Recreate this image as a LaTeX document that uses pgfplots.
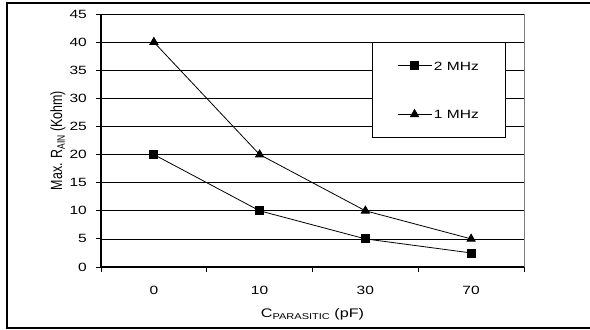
\documentclass[border=0pt]{standalone}
\usepackage{fontspec}
\setmainfont{Liberation Sans}
\usepackage{graphicx}
\usepackage{pgfplots}
\pgfplotsset{compat=1.18}
\newcommand{\sx}[1]{\scalebox{1.3}[1]{#1}}
\newcommand{\sy}[1]{\scalebox{1}[1.3]{#1}}
\newcommand{\sub}[1]{\raisebox{-2bp}{\fontsize{8.5}{10}\selectfont #1}}
\begin{document}
\begin{tikzpicture}
\useasboundingbox (0bp,0bp) rectangle (590bp,-330bp);
\draw[line width=2.2bp] (592bp,-3bp) -- (7bp,-3bp) -- (7bp,-328bp) -- (592bp,-328bp);
\begin{axis}[
  at={(101bp,-267bp)}, anchor=south west,
  scale only axis, width=423bp, height=253bp,
  xmin=-0.5, xmax=3.5, ymin=0, ymax=45,
  xtick={0,1,2,3},
  xticklabels={\sx{0},\sx{10},\sx{30},\sx{70}},
  minor xtick={-0.5,0.5,1.5,2.5,3.5},
  ytick={0,5,...,45},
  /pgf/number format/assume math mode=true,
  yticklabel={\sx{\pgfmathprintnumber{\tick}}},
  major x tick style={draw=none},
  tick align=outside, tick pos=left,
  major tick length=5bp, minor tick length=5bp,
  tick style={black, line width=0.8bp},
  ymajorgrids, grid style={black, line width=0.7bp},
  axis line style={draw=none},
  tick label style={font=\fontsize{12}{14}\selectfont},
  yticklabel style={anchor=east, inner sep=0pt, xshift=-9bp},
  xticklabel style={anchor=north, inner sep=0pt, yshift=-14bp},
  label style={font=\fontsize{12.5}{15}\selectfont},
  xlabel={\sx{C\sub{PARASITIC} (pF)}},
  xlabel style={at={(axis description cs:0.5,0)}, anchor=base, inner sep=0pt, yshift=-50bp},
  ylabel={\sy{Max. R\sub{AIN} (Kohm)}},
  ylabel style={at={(axis description cs:-0.1017,0.5)}, anchor=center, inner sep=0pt},
  legend style={at={(0.799,0.6996)}, anchor=center, draw=black, fill=white,
    line width=0.7bp, inner xsep=25bp, inner ysep=17bp, row sep=36bp,
    font=\fontsize{12}{14}\selectfont,
    nodes={inner sep=2bp, text height=8.5bp, text depth=0bp}},
  legend cell align=left,
  legend image code/.code={\draw[#1,mark repeat=2,mark phase=2] plot coordinates {(0bp,0bp) (17bp,0bp) (34bp,0bp)};},
  after end axis/.code={
    \draw[gray, line width=0.8bp] (rel axis cs:1,0) -- (rel axis cs:1,1);
    \draw[black, line width=1.4bp] (rel axis cs:0,1) -- (rel axis cs:0,0) -- (rel axis cs:1,0);
  },
]
\addplot[black, line width=0.8bp, mark=square*, mark size=4bp, mark options={solid}] coordinates {(0,20) (1,10) (2,5) (3,2.5)};
\addlegendentry{\sx{2 MHz}}
\addplot[black, line width=0.8bp, mark=triangle*, mark size=4.7bp, mark options={solid}] coordinates {(0,40) (1,20) (2,10) (3,5)};
\addlegendentry{\sx{1 MHz}}
\end{axis}
\end{tikzpicture}
\end{document}
